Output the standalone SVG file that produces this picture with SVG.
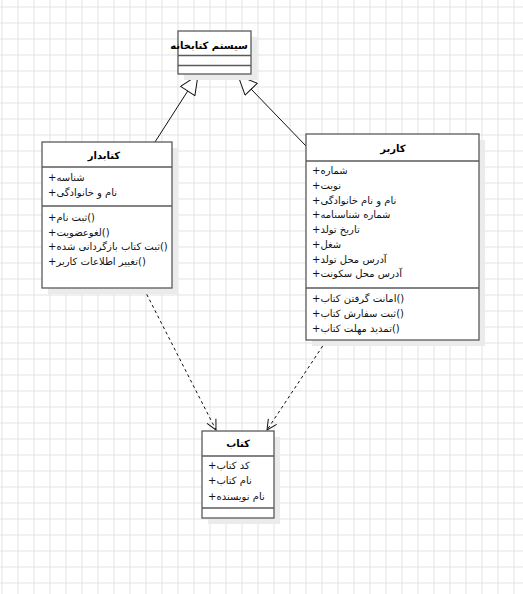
<svg xmlns="http://www.w3.org/2000/svg" width="523" height="594" viewBox="0 0 523 594">
<style>
.box{fill:#fff;stroke:#5a5a5a;stroke-width:1.3}
.shadow{fill:#ebebeb}
.div{stroke:#5a5a5a;stroke-width:1.3}
.t{font-family:"DejaVu Sans","Liberation Sans",sans-serif;font-size:10px;fill:#111}
.title{font-family:"DejaVu Sans","Liberation Sans",sans-serif;font-size:10px;font-weight:bold;fill:#000;text-anchor:middle}
.gen{fill:none;stroke:#111;stroke-width:1}
.dep{fill:none;stroke:#111;stroke-width:1;stroke-dasharray:3,3}
</style>
<defs>
<pattern id="grid" x="1.5" y="6.5" width="16" height="16" patternUnits="userSpaceOnUse">
<path d="M0.5 0V16M0 0.5H16" stroke="#e2e2e2" stroke-width="1" fill="none"/>
</pattern>
<marker id="tri" viewBox="0 0 22 18" refX="20" refY="9" markerWidth="22" markerHeight="18" markerUnits="userSpaceOnUse" orient="auto">
<path d="M1 0.5L20 9L1 17.5Z" fill="#fff" stroke="#111" stroke-width="1"/>
</marker>
<marker id="open" viewBox="0 0 12 12" refX="11" refY="6" markerWidth="12" markerHeight="12" markerUnits="userSpaceOnUse" orient="auto">
<path d="M1 1L11 6L1 11" fill="none" stroke="#111" stroke-width="1"/>
</marker>
</defs>
<rect width="523" height="594" fill="#fff"/>
<rect width="523" height="594" fill="url(#grid)"/>

<g id="connectors">
<line class="gen" x1="155" y1="142" x2="198" y2="75" marker-end="url(#tri)"/>
<line class="gen" x1="306" y1="146" x2="238" y2="75.5" marker-end="url(#tri)"/>
<line class="dep" x1="144" y1="289" x2="216" y2="430" marker-end="url(#open)"/>
<line class="dep" x1="326" y1="341" x2="267" y2="430" marker-end="url(#open)"/>
</g>

<g id="system">
<rect class="shadow" x="184" y="37" width="73" height="43"/>
<rect class="box" x="178" y="31" width="73" height="43"/>
<line class="div" x1="178" y1="55.5" x2="251" y2="55.5"/>
<line class="div" x1="178" y1="65.5" x2="251" y2="65.5"/>
<text class="title" x="209" y="48.5">سیستم کتابخانه</text>
</g>

<g id="librarian">
<rect class="shadow" x="48" y="148" width="130" height="146"/>
<rect class="box" x="42" y="142" width="130" height="146"/>
<line class="div" x1="42" y1="167" x2="172" y2="167"/>
<line class="div" x1="42" y1="206" x2="172" y2="206"/>
<text class="title" x="104" y="158.5">کتابدار</text>
<text class="t" x="48" y="180.5">+شناسه</text>
<text class="t" x="48" y="196">+نام و خانوادگی</text>
<text class="t" x="48" y="221">+ثبت نام()</text>
<text class="t" x="48" y="235.5">+لغوعضویت()</text>
<text class="t" x="48" y="250">+ثبت کتاب بازگردانی شده()</text>
<text class="t" x="48" y="264.5">+تغییر اطلاعات کاربر()</text>
</g>

<g id="user">
<rect class="shadow" x="312" y="140" width="173" height="206"/>
<rect class="box" x="306" y="134" width="173" height="206"/>
<line class="div" x1="306" y1="161" x2="479" y2="161"/>
<line class="div" x1="306" y1="288" x2="479" y2="288"/>
<text class="title" x="393" y="151.5">کاربر</text>
<text class="t" x="312" y="173.5">+شماره</text>
<text class="t" x="312" y="188.5">+نوبت</text>
<text class="t" x="312" y="203.5">+نام و نام خانوادگی</text>
<text class="t" x="312" y="217.5">+شماره شناسنامه</text>
<text class="t" x="312" y="232.5">+تاریخ تولد</text>
<text class="t" x="312" y="247.5">+شغل</text>
<text class="t" x="312" y="262.5">+آدرس محل تولد</text>
<text class="t" x="312" y="276.5">+آدرس محل سکونت</text>
<text class="t" x="312" y="301.5">+امانت گرفتن کتاب()</text>
<text class="t" x="312" y="316.5">+ثبت سفارش کتاب()</text>
<text class="t" x="312" y="331.5">+تمدید مهلت کتاب()</text>
</g>

<g id="book">
<rect class="shadow" x="208" y="437" width="72" height="87"/>
<rect class="box" x="202" y="431" width="72" height="87"/>
<line class="div" x1="202" y1="456" x2="274" y2="456"/>
<line class="div" x1="202" y1="508" x2="274" y2="508"/>
<text class="title" x="238" y="446.5">کتاب</text>
<text class="t" x="208" y="468.5">+کد کتاب</text>
<text class="t" x="208" y="484">+نام کتاب</text>
<text class="t" x="208" y="499.5">+نام نویسنده</text>
</g>
</svg>
